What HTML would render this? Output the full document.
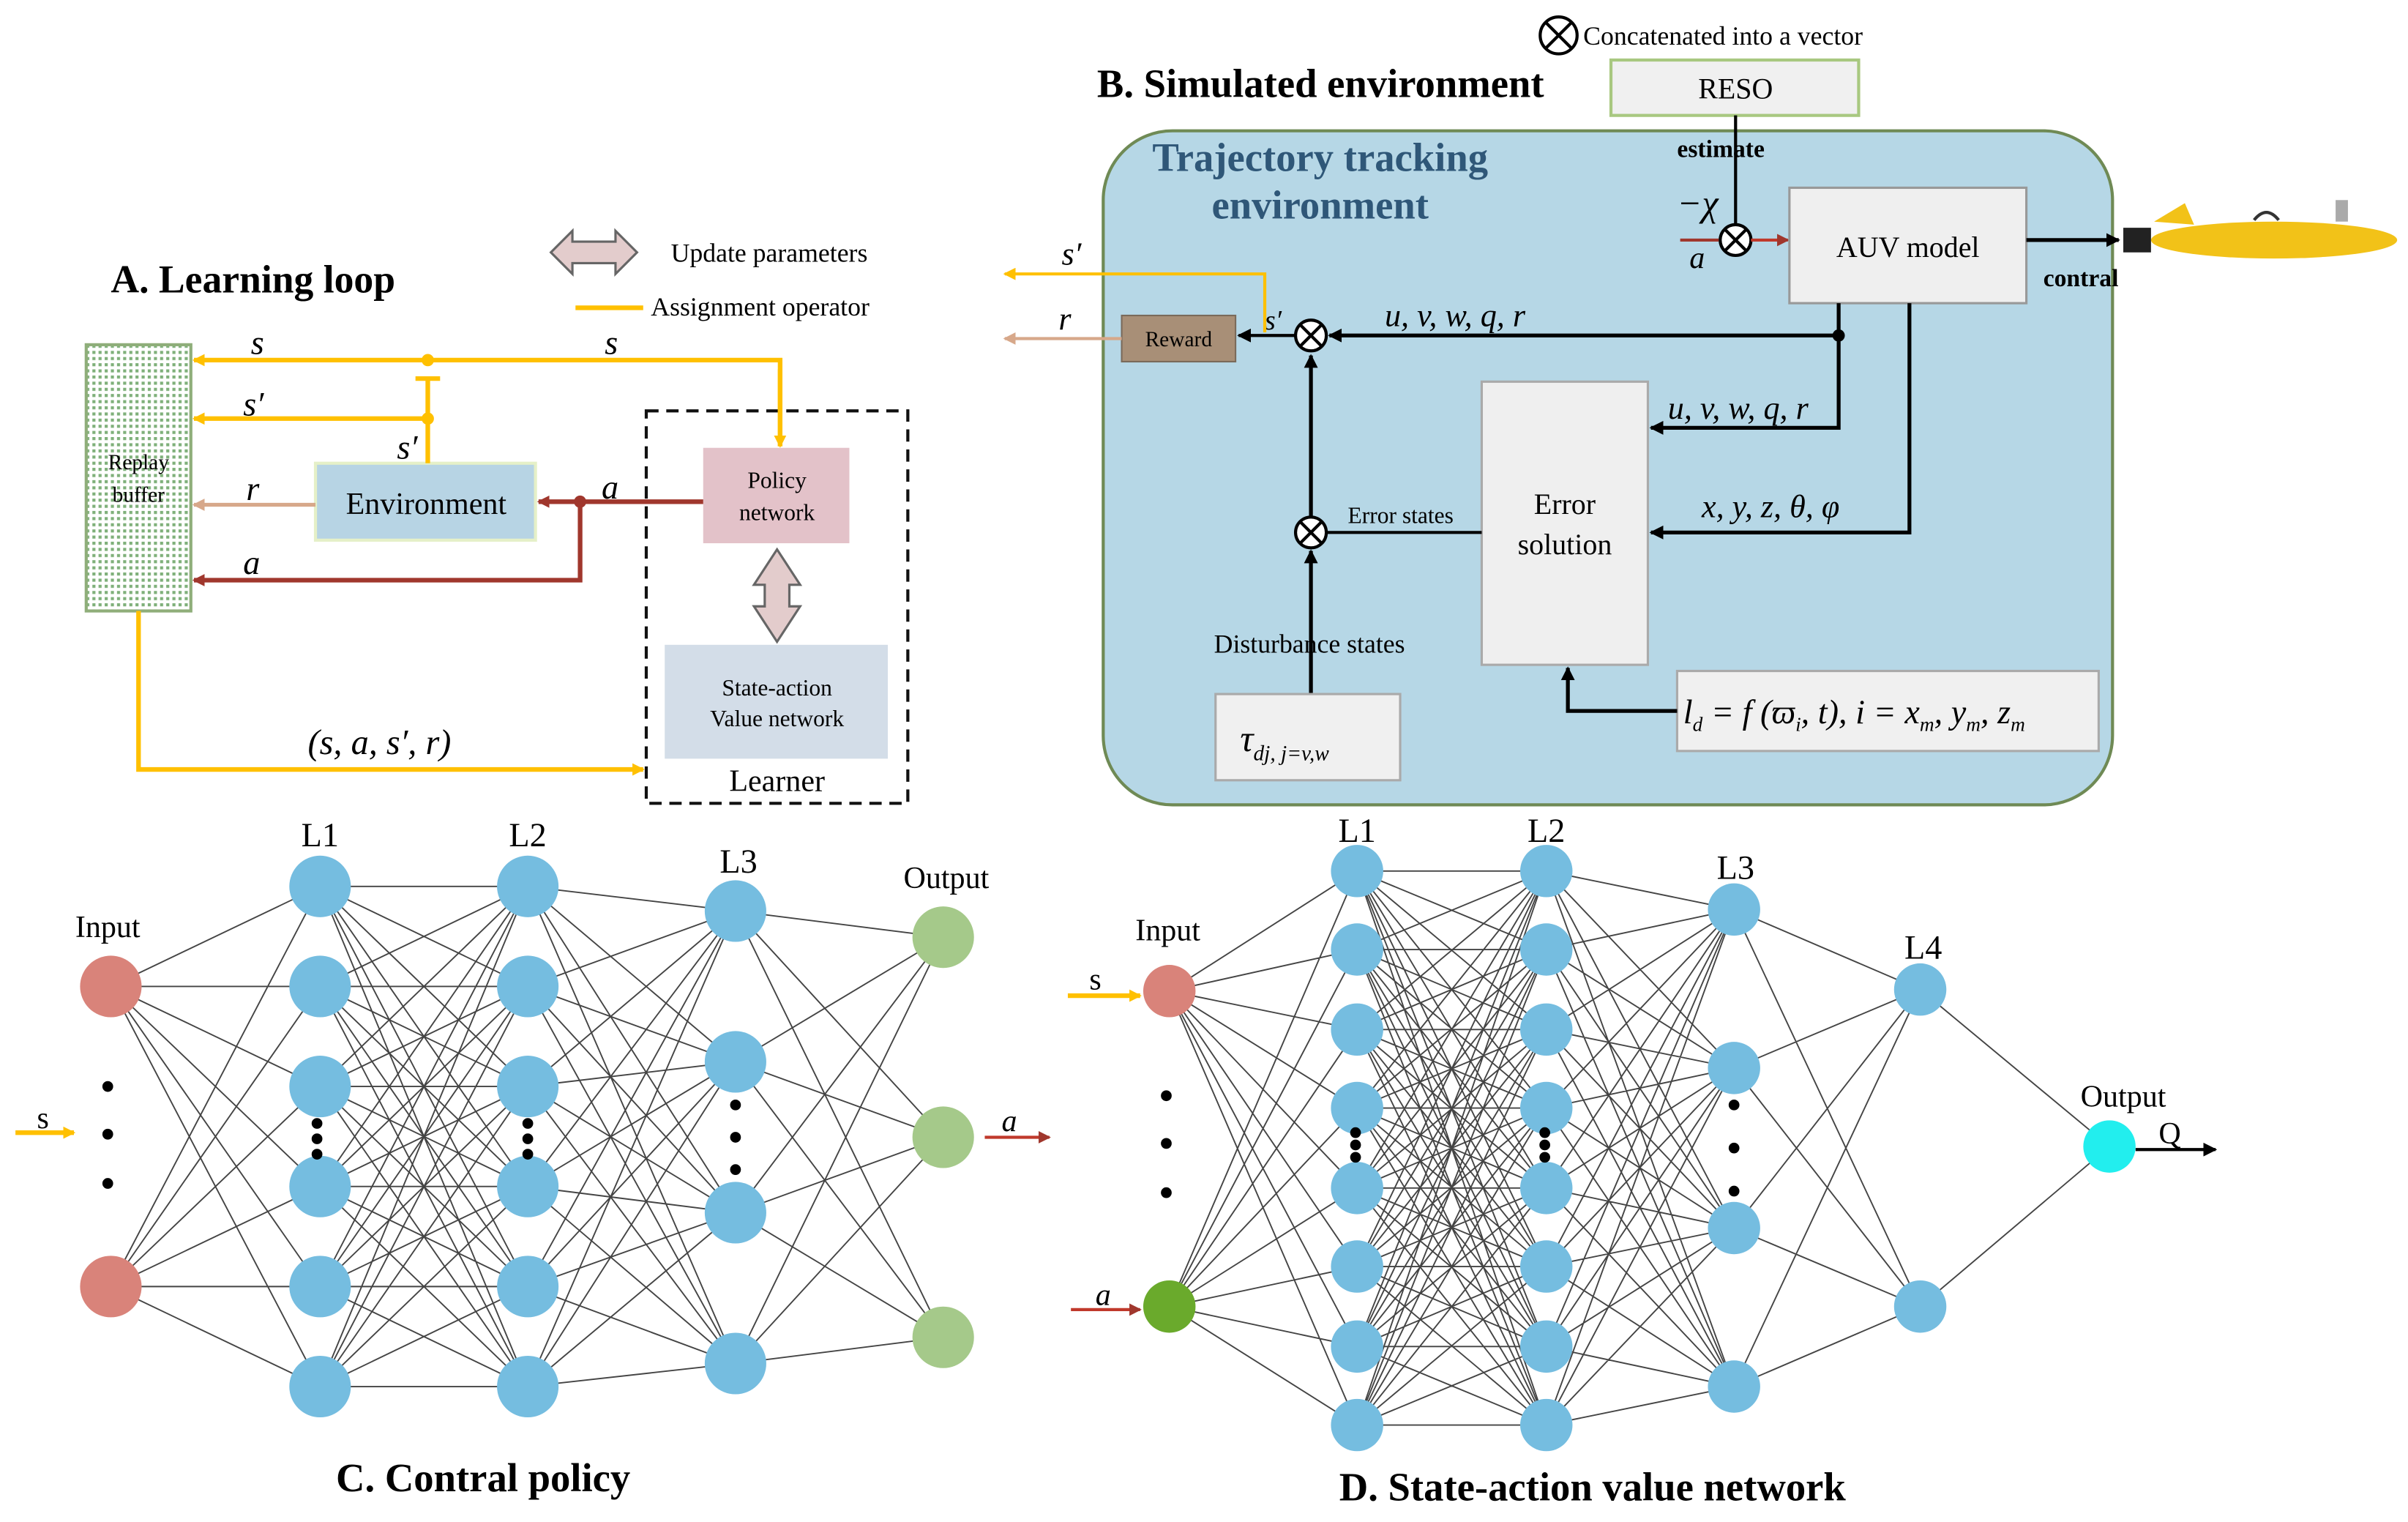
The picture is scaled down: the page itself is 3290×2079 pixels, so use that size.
<!DOCTYPE html>
<html><head><meta charset="utf-8"><style>
html,body{margin:0;padding:0;background:#fff}
svg{display:block}
text{font-family:"Liberation Serif",serif}
.i{font-style:italic}
</style></head><body>
<svg width="3290" height="2079" viewBox="0 0 1565 989" xmlns="http://www.w3.org/2000/svg">
<defs>
<marker id="ay" markerWidth="8" markerHeight="8" refX="7" refY="4" orient="auto" markerUnits="userSpaceOnUse"><path d="M0,0L8,4L0,8z" fill="#ffc000"/></marker>
<marker id="ar" markerWidth="8" markerHeight="8" refX="7" refY="4" orient="auto" markerUnits="userSpaceOnUse"><path d="M0,0L8,4L0,8z" fill="#a0372d"/></marker>
<marker id="at" markerWidth="8" markerHeight="8" refX="7" refY="4" orient="auto" markerUnits="userSpaceOnUse"><path d="M0,0L8,4L0,8z" fill="#d7a88a"/></marker>
<marker id="ak" markerWidth="9" markerHeight="9" refX="8" refY="4.5" orient="auto" markerUnits="userSpaceOnUse"><path d="M0,0L9,4.5L0,9z" fill="#000"/></marker>
<pattern id="dots" width="4" height="4" patternUnits="userSpaceOnUse"><rect width="4" height="4" fill="#fff"/><rect width="2" height="2" fill="#7fb07a"/></pattern>
</defs>

<text x="72" y="190" font-size="25.5" font-weight="bold">A. Learning loop</text>
<path d="M358,164 L372,150 L372,157 L400,157 L400,150 L414,164 L400,178 L400,171 L372,171 L372,178Z" fill="#e3cccc" stroke="#666" stroke-width="1.5"/>
<text x="436" y="170" font-size="17">Update parameters</text>
<line x1="374" y1="200" x2="418" y2="200" stroke="#ffc000" stroke-width="3"/>
<text x="423" y="205" font-size="17">Assignment operator</text>
<rect x="56" y="224" width="68" height="173" fill="url(#dots)" stroke="#8fae7a" stroke-width="2"/>
<text x="90" y="305" font-size="14" text-anchor="middle">Replay</text>
<text x="90" y="326" font-size="14" text-anchor="middle">buffer</text>
<rect x="205" y="301" width="143" height="50" fill="#b7d4e4" stroke="#e5f0c8" stroke-width="2"/>
<text x="277" y="334" font-size="20" text-anchor="middle">Environment</text>
<rect x="420" y="267" width="170" height="255" fill="none" stroke="#111" stroke-width="2" stroke-dasharray="8,5"/>
<rect x="457" y="291" width="95" height="62" fill="#e3c2c9"/>
<text x="505" y="317" font-size="15" text-anchor="middle">Policy</text>
<text x="505" y="338" font-size="15" text-anchor="middle">network</text>
<path d="M505,357 L520,380 L513,380 L513,394 L520,394 L505,417 L490,394 L497,394 L497,380 L490,380Z" fill="#e3cccc" stroke="#666" stroke-width="1.5"/>
<rect x="432" y="419" width="145" height="74" fill="#d3dde8"/>
<text x="505" y="452" font-size="15" text-anchor="middle">State-action</text>
<text x="505" y="472" font-size="15" text-anchor="middle">Value network</text>
<text x="505" y="514" font-size="20" text-anchor="middle">Learner</text>
<path d="M507,290 L507,234 L126,234" fill="none" stroke="#ffc000" stroke-width="3" marker-end="url(#ay)"/>
<path d="M507,240 L507,290" stroke="#ffc000" stroke-width="3" marker-end="url(#ay)"/>
<path d="M278,272 L126,272" stroke="#ffc000" stroke-width="3" marker-end="url(#ay)"/>
<path d="M278,301 L278,246" stroke="#ffc000" stroke-width="3"/>
<line x1="270" y1="246" x2="286" y2="246" stroke="#ffc000" stroke-width="3"/>
<circle cx="278" cy="234" r="4" fill="#ffc000"/><circle cx="278" cy="272" r="4" fill="#ffc000"/>
<text x="163" y="230" font-size="22" class="i">s</text>
<text x="393" y="230" font-size="22" class="i">s</text>
<text x="158" y="270" font-size="22" class="i">s′</text>
<text x="258" y="298" font-size="22" class="i">s′</text>
<path d="M205,328 L126,328" stroke="#d7a88a" stroke-width="2.5" marker-end="url(#at)"/>
<text x="160" y="325" font-size="22" class="i">r</text>
<path d="M457,326 L350,326" stroke="#a0372d" stroke-width="3" marker-end="url(#ar)"/>
<circle cx="377" cy="326" r="4" fill="#a0372d"/>
<text x="391" y="324" font-size="22" class="i">a</text>
<path d="M377,326 L377,377 L126,377" fill="none" stroke="#a0372d" stroke-width="3" marker-end="url(#ar)"/>
<text x="158" y="373" font-size="22" class="i">a</text>
<path d="M90,397 L90,500 L418,500" fill="none" stroke="#ffc000" stroke-width="3" marker-end="url(#ay)"/>
<text x="200" y="490" font-size="23" class="i">(s, a, s′, r)</text>

<text x="713" y="63" font-size="26" font-weight="bold">B. Simulated environment</text>
<circle cx="1013" cy="23" r="12" fill="none" stroke="#000" stroke-width="2"/>
<path d="M1005,15L1021,31M1021,15L1005,31" stroke="#000" stroke-width="2"/>
<text x="1029" y="29" font-size="17">Concatenated into a vector</text>
<rect x="1047" y="39" width="161" height="36" fill="#f0f0f0" stroke="#a8c880" stroke-width="2"/>
<text x="1128" y="64" font-size="19" text-anchor="middle" font-family="Liberation Sans">RESO</text>
<rect x="717" y="85" width="656" height="438" rx="45" fill="#b6d7e6" stroke="#6f8a55" stroke-width="2"/>
<text x="858" y="111" font-size="26" font-weight="bold" fill="#2f5778" text-anchor="middle">Trajectory tracking</text>
<text x="858" y="142" font-size="26" font-weight="bold" fill="#2f5778" text-anchor="middle">environment</text>
<text x="1090" y="102" font-size="16" font-weight="bold">estimate</text>
<line x1="1128" y1="75" x2="1128" y2="146" stroke="#000" stroke-width="2"/>
<text x="1090" y="140" font-size="24" class="i">−χ</text>
<circle cx="1128" cy="156" r="10" fill="#fff" stroke="#000" stroke-width="2"/>
<path d="M1121,149L1135,163M1135,149L1121,163" stroke="#000" stroke-width="2"/>
<path d="M1092,156 L1117,156" stroke="#a0372d" stroke-width="2"/>
<text x="1098" y="174" font-size="20" class="i">a</text>
<path d="M1138,156 L1162,156" stroke="#c0392b" stroke-width="2" marker-end="url(#ar)"/>
<rect x="1163" y="122" width="154" height="75" fill="#efefef" stroke="#999" stroke-width="1.5"/>
<text x="1240" y="167" font-size="19" text-anchor="middle" font-family="Liberation Sans">AUV model</text>
<path d="M1317,156 L1377,156" stroke="#000" stroke-width="2.5" marker-end="url(#ak)"/>
<text x="1328" y="186" font-size="16" font-weight="bold">contral</text>
<ellipse cx="1478" cy="156" rx="80" ry="12" fill="#f2c218"/>
<rect x="1380" y="148" width="18" height="16" fill="#222"/>
<path d="M1400,144 L1420,132 L1426,146Z" fill="#f2c218"/>
<rect x="1518" y="130" width="8" height="14" fill="#aaa"/>
<path d="M1465,143 q8,-10 16,0" fill="none" stroke="#333" stroke-width="2"/>
<rect x="729" y="205" width="74" height="30" fill="#a88f77" stroke="#7a6a5a"/>
<text x="766" y="225" font-size="14" text-anchor="middle">Reward</text>
<circle cx="852" cy="218" r="10" fill="#fff" stroke="#000" stroke-width="2"/>
<path d="M845,211L859,225M859,211L845,225" stroke="#000" stroke-width="2"/>
<path d="M1195,197 L1195,218 L864,218" fill="none" stroke="#000" stroke-width="2.5" marker-end="url(#ak)"/>
<circle cx="1195" cy="218" r="4" fill="#000"/>
<text x="900" y="212" font-size="21" class="i">u, v, w, q, r</text>
<path d="M842,218 L805,218" stroke="#000" stroke-width="2" marker-end="url(#ak)"/>
<text x="822" y="214" font-size="18" class="i">s′</text>
<path d="M822,216 L822,178 L653,178" fill="none" stroke="#ffc000" stroke-width="2" marker-end="url(#ay)"/>
<text x="690" y="172" font-size="21" class="i">s′</text>
<path d="M729,220 L653,220" stroke="#d7a88a" stroke-width="2" marker-end="url(#at)"/>
<text x="688" y="214" font-size="21" class="i">r</text>
<rect x="963" y="248" width="108" height="184" fill="#efefef" stroke="#aaa" stroke-width="1.5"/>
<text x="1017" y="334" font-size="19" text-anchor="middle" font-family="Liberation Sans">Error</text>
<text x="1017" y="360" font-size="19" text-anchor="middle" font-family="Liberation Sans">solution</text>
<path d="M1195,218 L1195,278 L1073,278" fill="none" stroke="#000" stroke-width="2.5" marker-end="url(#ak)"/>
<text x="1084" y="272" font-size="21" class="i">u, v, w, q, r</text>
<path d="M1241,197 L1241,346 L1073,346" fill="none" stroke="#000" stroke-width="2.5" marker-end="url(#ak)"/>
<text x="1106" y="336" font-size="21" class="i">x, y, z, θ, φ</text>
<circle cx="852" cy="346" r="10" fill="#fff" stroke="#000" stroke-width="2"/>
<path d="M845,339L859,353M859,339L845,353" stroke="#000" stroke-width="2"/>
<line x1="963" y1="346" x2="862" y2="346" stroke="#000" stroke-width="2"/>
<text x="876" y="340" font-size="15">Error states</text>
<path d="M852,336 L852,231" stroke="#000" stroke-width="2.5" marker-end="url(#ak)"/>
<path d="M852,451 L852,358" stroke="#000" stroke-width="2.5" marker-end="url(#ak)"/>
<text x="789" y="424" font-size="17">Disturbance states</text>
<rect x="790" y="451" width="120" height="56" fill="#f0f0f0" stroke="#aaa" stroke-width="1.5"/>
<text x="806" y="488" font-size="24" class="i">τ<tspan font-size="14" dy="6">dj, j=v,w</tspan></text>
<rect x="1090" y="436" width="274" height="52" fill="#f0f0f0" stroke="#aaa" stroke-width="1.5"/>
<text x="1094" y="470" font-size="22" class="i">l<tspan font-size="13" dy="5">d</tspan><tspan dy="-5"> = f (ϖ</tspan><tspan font-size="13" dy="5">i</tspan><tspan dy="-5">, t), i = x</tspan><tspan font-size="13" dy="5">m</tspan><tspan dy="-5">, y</tspan><tspan font-size="13" dy="5">m</tspan><tspan dy="-5">, z</tspan><tspan font-size="13" dy="5">m</tspan></text>
<path d="M1090,462 L1019,462 L1019,434" fill="none" stroke="#000" stroke-width="2.5" marker-end="url(#ak)"/>

<g id="C"></g>
<g id="D"></g>
<text x="208" y="550" font-size="22" text-anchor="middle">L1</text>
<text x="343" y="550" font-size="22" text-anchor="middle">L2</text>
<text x="480" y="567" font-size="22" text-anchor="middle">L3</text>
<text x="615" y="577" font-size="20" text-anchor="middle">Output</text>
<text x="70" y="609" font-size="20" text-anchor="middle">Input</text>
<text x="24" y="733" font-size="20">s</text>
<path d="M10,736 L48,736" stroke="#ffc000" stroke-width="3" marker-end="url(#ay)"/>
<path d="M640,739 L682,739" stroke="#c0392b" stroke-width="2" marker-end="url(#ar)"/>
<text x="651" y="735" font-size="20" class="i">a</text>
<text x="314" y="969" font-size="26" font-weight="bold" text-anchor="middle">C. Contral policy</text>

<text x="882" y="547" font-size="22" text-anchor="middle">L1</text>
<text x="1005" y="547" font-size="22" text-anchor="middle">L2</text>
<text x="1128" y="571" font-size="22" text-anchor="middle">L3</text>
<text x="1250" y="623" font-size="22" text-anchor="middle">L4</text>
<text x="1380" y="719" font-size="20" text-anchor="middle">Output</text>
<text x="759" y="611" font-size="20" text-anchor="middle">Input</text>
<text x="708" y="643" font-size="20">s</text>
<path d="M694,647 L741,647" stroke="#ffc000" stroke-width="3" marker-end="url(#ay)"/>
<text x="712" y="848" font-size="20" class="i">a</text>
<path d="M696,851 L741,851" stroke="#c0392b" stroke-width="2" marker-end="url(#ar)"/>
<text x="1403" y="743" font-size="20">Q</text>
<path d="M1388,747 L1440,747" stroke="#000" stroke-width="2" marker-end="url(#ak)"/>
<text x="1035" y="975" font-size="26" font-weight="bold" text-anchor="middle">D. State-action value network</text>
</svg>
<script>
(function(){
var NS="http://www.w3.org/2000/svg";
function net(gid,layers,r){
 var g=document.getElementById(gid);
 var s="";
 for(var l=0;l<layers.length-1;l++){
  var A=layers[l],B=layers[l+1];
  A.ys.forEach(function(y1){B.ys.forEach(function(y2){s+="M"+A.x+","+y1+"L"+B.x+","+y2;});});
 }
 var p=document.createElementNS(NS,"path");p.setAttribute("d",s);p.setAttribute("stroke","#444");p.setAttribute("stroke-width","0.9");p.setAttribute("fill","none");g.appendChild(p);
 layers.forEach(function(L){L.ys.forEach(function(y,i){var c=document.createElementNS(NS,"circle");c.setAttribute("cx",L.x);c.setAttribute("cy",y);c.setAttribute("r",r);c.setAttribute("fill",L.colors?L.colors[i]:L.c);g.appendChild(c);});
  (L.dots||[]).forEach(function(d){var c=document.createElementNS(NS,"circle");c.setAttribute("cx",d[0]);c.setAttribute("cy",d[1]);c.setAttribute("r",3.5);c.setAttribute("fill","#000");g.appendChild(c);});});
}
var b="#75bde0";
var cy=[576,641,706,771,836,901];
net("C",[
 {x:72,ys:[641,836],c:"#d9837a",dots:[[70,706],[70,737],[70,769]]},
 {x:208,ys:cy,c:b,dots:[[206,730],[206,740],[206,750]]},
 {x:343,ys:cy,c:b,dots:[[343,730],[343,740],[343,750]]},
 {x:478,ys:[592,690,788,886],c:b,dots:[[478,718],[478,739],[478,760]]},
 {x:613,ys:[609,739,869],c:"#a5c98a"}],20);
var dy=[566,617,669,720,772,823,875,926];
net("D",[
 {x:760,ys:[644,849],colors:["#d9837a","#6aaa2c"],dots:[[758,712],[758,743],[758,775]]},
 {x:882,ys:dy,c:b,dots:[[881,736],[881,744],[881,752]]},
 {x:1005,ys:dy,c:b,dots:[[1004,736],[1004,744],[1004,752]]},
 {x:1127,ys:[591,694,798,901],c:b,dots:[[1127,718],[1127,746],[1127,774]]},
 {x:1248,ys:[643,849],c:b},
 {x:1371,ys:[745],c:"#22eeee"}],17);
})();
</script>
</body></html>
